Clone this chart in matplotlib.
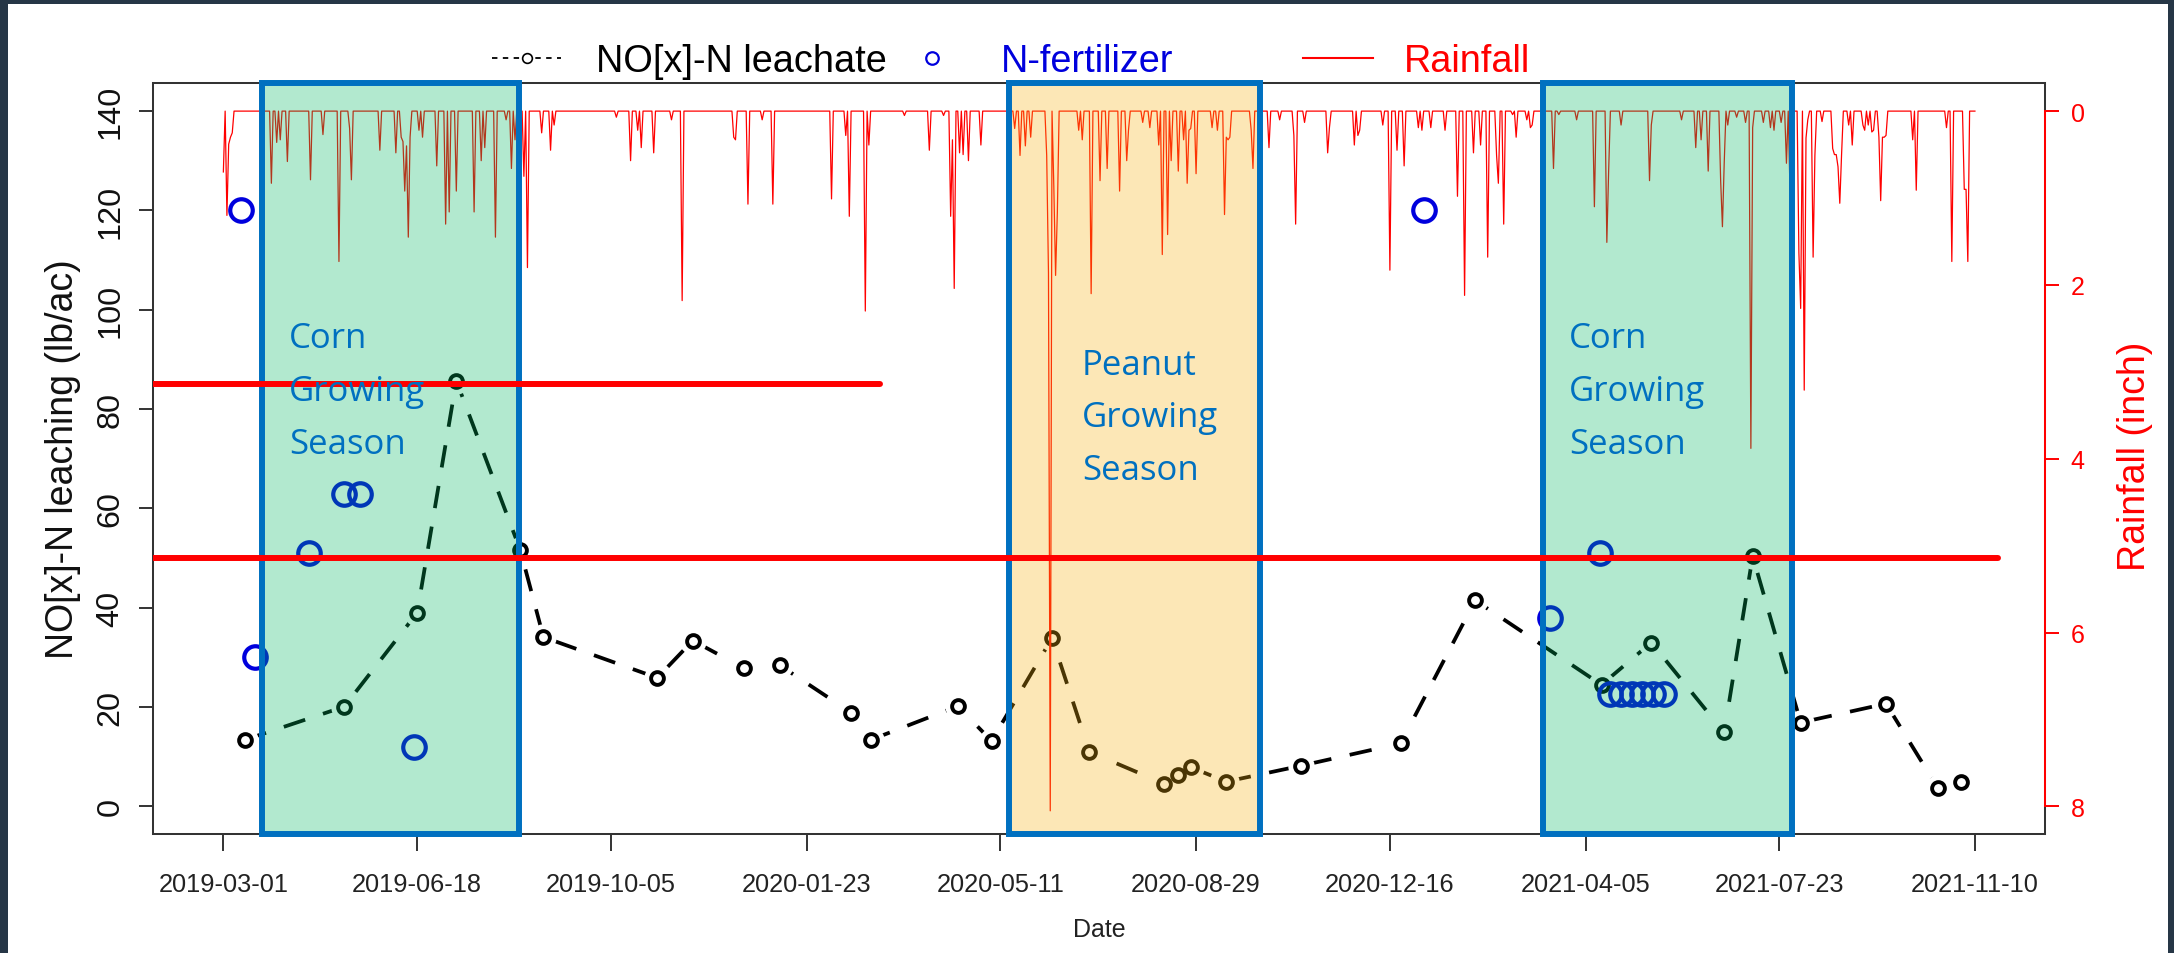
import numpy as np
import matplotlib
matplotlib.use("Agg")
import matplotlib.pyplot as plt
import matplotlib.dates as mdates
from matplotlib.patches import Rectangle
from matplotlib.lines import Line2D

plt.rcParams['font.family'] = ['Liberation Sans', 'DejaVu Sans']

# ---------------- data ----------------
start_date = "2019-03-01"
end_date = "2021-11-10"

leach_dates = ["2019-03-13", "2019-05-08", "2019-06-18", "2019-07-10", "2019-08-15",
               "2019-08-28", "2019-10-31", "2019-11-20", "2019-12-19", "2020-01-08",
               "2020-02-17", "2020-02-28", "2020-04-17", "2020-05-06", "2020-06-09",
               "2020-06-30", "2020-08-11", "2020-08-19", "2020-08-26", "2020-09-15",
               "2020-10-27", "2020-12-22", "2021-02-02", "2021-04-14", "2021-05-12",
               "2021-06-22", "2021-07-08", "2021-08-04", "2021-09-21", "2021-10-20",
               "2021-11-02"]
leach_values = [13.4, 20.1, 39.0, 85.7, 51.6, 34.1, 25.9, 33.4, 27.8, 28.4,
                18.9, 13.4, 20.2, 13.2, 33.9, 11.0, 4.6, 6.3, 7.9, 5.0,
                8.2, 12.7, 41.5, 24.5, 33.0, 14.9, 50.4, 16.9, 20.7, 3.8, 5.0]

fert_dates = ["2019-03-11", "2019-03-19", "2019-04-18", "2019-05-08", "2019-05-17",
              "2019-06-16", "2021-01-04", "2021-03-16", "2021-04-13", "2021-04-19",
              "2021-04-25", "2021-05-01", "2021-05-07", "2021-05-13", "2021-05-19"]
fert_values = [120, 30, 51, 63, 63, 12, 120, 38, 51, 22.7, 22.7, 22.7, 22.7, 22.7, 22.7]

# daily rainfall events: days since start_date, inches
rain_day = [0, 2, 3, 4, 5, 27, 30, 32, 36, 49, 56, 65, 71, 72, 88, 97, 100, 101, 102, 103,
            104, 105, 110, 112, 120, 125, 127, 131, 141, 145, 147, 153, 159, 162, 164, 169,
            171, 179, 184, 186, 221, 229, 233, 235, 242, 252, 258, 287, 288, 295, 303, 309,
            342, 350, 352, 361, 363, 383, 397, 405, 409, 410, 411, 414, 416, 419, 426, 445,
            448, 451, 454, 463, 464, 465, 467, 468, 469, 481, 483, 488, 493, 497, 504, 508,
            509, 517, 521, 526, 528, 531, 533, 537, 540, 542, 543, 544, 547, 556, 559, 563,
            564, 565, 566, 578, 579, 588, 594, 602, 603, 608, 621, 622, 636, 638, 639, 652,
            656, 660, 664, 672, 674, 679, 687, 694, 698, 703, 707, 711, 716, 717, 720, 725,
            727, 733, 735, 736, 748, 751, 761, 771, 778, 779, 786, 802, 803, 820, 828, 831,
            835, 842, 843, 844, 846, 851, 856, 859, 860, 866, 870, 872, 876, 879, 881, 886,
            887, 889, 890, 891, 894, 895, 899, 905, 906, 907, 908, 909, 910, 914, 916, 922,
            923, 925, 927, 928, 931, 932, 933, 934, 935, 950, 952, 969, 972, 979, 980, 981]
rain_inch = [0.70, 1.20, 0.38, 0.30, 0.25, 0.83, 0.36, 0.33, 0.58, 0.79, 0.27, 1.73, 0.20, 0.79,
             0.45, 0.48, 0.30, 0.35, 0.92, 0.40, 1.45, 0.30, 0.22, 0.30, 0.63, 1.30, 1.16, 0.92,
             1.16, 0.57, 0.42, 1.45, 0.10, 0.66, 0.33, 0.75, 1.80, 0.25, 0.45, 0.16, 0.07, 0.57,
             0.22, 0.42, 0.48, 0.10, 2.18, 0.30, 0.33, 1.07, 0.10, 1.07, 1.01, 0.28, 1.21, 2.30,
             0.39, 0.05, 0.45, 0.05, 1.21, 0.33, 2.04, 0.48, 0.50, 0.57, 0.39, 0.20, 0.51, 0.40,
             0.30, 0.51, 1.86, 8.05, 0.86, 1.89, 1.16, 0.22, 0.33, 2.10, 0.80, 0.66, 0.92, 0.57,
             0.22, 0.13, 0.19, 0.39, 1.65, 1.42, 0.57, 0.69, 0.33, 0.83, 0.22, 0.20, 0.72, 0.19,
             0.22, 1.19, 0.30, 0.33, 0.30, 0.22, 0.66, 0.42, 0.10, 0.28, 1.30, 0.13, 0.48, 0.19,
             0.39, 0.28, 0.22, 0.16, 1.83, 0.45, 0.63, 0.19, 0.22, 0.19, 0.22, 0.98, 2.12, 0.48,
             0.39, 1.68, 0.51, 0.83, 1.30, 0.04, 0.30, 0.10, 0.19, 0.16, 0.66, 0.04, 0.10, 1.10,
             1.51, 0.70, 0.16, 0.80, 0.16, 0.10, 0.42, 0.33, 0.69, 0.80, 1.33, 0.60, 0.16, 0.07,
             0.13, 3.88, 0.19, 0.13, 0.19, 0.22, 0.13, 0.60, 0.92, 1.63, 2.27, 3.21, 0.31, 0.10,
             1.68, 0.51, 0.12, 0.43, 0.50, 0.50, 0.64, 1.06, 0.50, 0.16, 0.39, 0.16, 0.22, 0.16,
             0.24, 0.22, 0.30, 1.03, 0.30, 0.30, 0.28, 0.33, 0.91, 0.19, 1.73, 0.90, 0.90, 1.73]

season_names = [["Corn", "Growing", "Season"], ["Peanut", "Growing", "Season"],
                ["Corn", "Growing", "Season"]]
season_start = ["2019-03-23", "2020-05-16", "2021-03-12"]
season_end = ["2019-08-14", "2020-10-04", "2021-07-30"]
season_fill = ["#00b962", "#f8b20f", "#00b962"]

threshold_values = [85, 50]
threshold_end = ["2020-03-04", "2021-11-23"]

xtick_labels = ["2019-03-01", "2019-06-18", "2019-10-05", "2020-01-23", "2020-05-11",
                "2020-08-29", "2020-12-16", "2021-04-05", "2021-07-23", "2021-11-10"]
ytick_left = [0, 20, 40, 60, 80, 100, 120, 140]
ytick_right = [0, 2, 4, 6, 8]

# ---------------- figure ----------------
W, H = 2174, 954
fig = plt.figure(figsize=(W / 100, H / 100), dpi=100)
fig.patch.set_facecolor('white')

ax_l, ax_r, ax_t, ax_b = 153.3, 2045.0, 84.3, 835.3
ax = fig.add_axes([ax_l / W, 1 - ax_b / H, (ax_r - ax_l) / W, (ax_b - ax_t) / H])
ax2 = ax.twinx()

to_num = lambda lst: mdates.date2num(np.array(lst, dtype='datetime64[D]'))

x0 = mdates.date2num(np.datetime64(start_date))
x1 = mdates.date2num(np.datetime64(end_date))
xpad = 0.04 * (x1 - x0)

# leachate series (dashed, with gaps around points like R type="b")
lx = to_num(leach_dates)
ax.plot(lx, leach_values, color='black', lw=2.7, dashes=(6.0, 5.0), zorder=2)
ax.plot(lx, leach_values, ls='none', marker='o', ms=19, mfc='white', mec='none', zorder=2.5)
ax.plot(lx, leach_values, ls='none', marker='o', ms=9.2, mfc='none', mec='black', mew=2.8, zorder=3)

# fertilizer points
fx = to_num(fert_dates)
ax.plot(fx, fert_values, ls='none', marker='o', ms=16.2, mfc='none', mec='#0000dd', mew=3.0, zorder=3.5)

# rainfall (daily line)
n_days = int((np.datetime64(end_date) - np.datetime64(start_date)).astype(int)) + 1
rain_daily = np.zeros(n_days)
rain_daily[np.array(rain_day)] = rain_inch
rain_x = x0 + np.arange(n_days)
ax2.plot(rain_x, rain_daily, color='#ff0000', lw=0.9, zorder=2)

# growing season overlays
for s, e, fc, names in zip(season_start, season_end, season_fill, season_names):
    s_num = mdates.date2num(np.datetime64(s))
    e_num = mdates.date2num(np.datetime64(e))
    ax2.add_patch(Rectangle((s_num, 0), e_num - s_num, 1, transform=ax2.get_xaxis_transform(),
                            facecolor=matplotlib.colors.to_rgba(fc, 0.30), edgecolor='#0070c0',
                            lw=4.3, clip_on=False, zorder=5))

# season labels (text positions in axes fractions)
text_pos = [(0.0719, [0.6485, 0.5786, 0.5079]),
            (0.4909, [0.6132, 0.5433, 0.4726]),
            (0.7484, [0.6485, 0.5786, 0.5079])]
for names, (tx, tys) in zip(season_names, text_pos):
    for word, ty in zip(names, tys):
        ax2.text(tx, ty, word, transform=ax2.transAxes, color='#0070c0', fontsize=25,
                 family=['Open Sans', 'DejaVu Sans'], ha='left', va='baseline', zorder=8)

# threshold lines
for v, e in zip(threshold_values, threshold_end):
    ax2.plot([x0 - xpad, mdates.date2num(np.datetime64(e))], [v, v], transform=ax.transData,
             color='#ff0000', lw=4.3, solid_capstyle='round', zorder=7)

# ---------------- axes styling ----------------
ax.set_xlim(x0 - xpad, x1 + xpad)
ax.set_ylim(-5.6, 145.6)
ax2.set_ylim(8.32, -0.32)

ax.set_xticks(to_num(xtick_labels))
ax.set_xticklabels(xtick_labels)
ax.set_yticks(ytick_left)
ax.set_yticklabels([str(v) for v in ytick_left])
ax2.set_yticks(ytick_right)
ax2.set_yticklabels([str(v) for v in ytick_right])

for sp in ax.spines.values():
    sp.set_color('#333333')
    sp.set_linewidth(1.45)
for name, sp in ax2.spines.items():
    sp.set_visible(False)
ax2.spines['right'].set_visible(True)
ax2.spines['right'].set_color('#ff0000')
ax2.spines['right'].set_linewidth(1.45)
ax2.spines['right'].set_bounds(0, 8)

ax.tick_params(axis='x', labelsize=18.3, length=12, width=1.4, pad=15, color='#333333', labelcolor='#222222')
ax.tick_params(axis='y', labelsize=23.3, length=10, width=1.4, pad=10, color='#333333',
               labelcolor='#111111', labelrotation=90)
for t in ax.get_yticklabels():
    t.set_va('center')
ax2.tick_params(axis='y', labelsize=18, length=10, width=1.4, pad=8.4, color='#ff0000', labelcolor='#ff0000')

ax.set_ylabel("NO[x]-N leaching (lb/ac)", fontsize=27, color='#111111')
ax.yaxis.set_label_coords(-0.0382, 0.501)
ax2.set_ylabel("Rainfall (inch)", fontsize=27, color='#ff0000')
ax2.yaxis.set_label_coords(1.038, 0.505)
ax.set_xlabel("Date", fontsize=18, color='#222222')
ax.xaxis.set_label_coords(0.5, -0.1096)

# ---------------- legend (manual, above plot) ----------------
ly = 1 - 59 / H
lb = 1 - 72 / H
fig.add_artist(Line2D([492 / W, 561 / W], [ly, ly], transform=fig.transFigure, color='black',
                      lw=1.3, dashes=(3, 3)))
fig.add_artist(Line2D([527 / W], [ly], transform=fig.transFigure, ls='none', marker='o', ms=7,
                      mfc='white', mec='black', mew=1.2))
fig.text(596 / W, lb, "NO[x]-N leachate", fontsize=27.3, color='black', ha='left', va='baseline')
fig.add_artist(Line2D([932 / W], [ly], transform=fig.transFigure, ls='none', marker='o', ms=9,
                      mfc='none', mec='#0000dd', mew=1.6))
fig.text(1001 / W, lb, "N-fertilizer", fontsize=27.3, color='#0000dd', ha='left', va='baseline')
fig.add_artist(Line2D([1303 / W, 1373 / W], [ly, ly], transform=fig.transFigure, color='#ff0000', lw=1.5))
fig.text(1404 / W, lb, "Rainfall", fontsize=27.3, color='#ff0000', ha='left', va='baseline')

# ---------------- dark slide frame ----------------
frame_color = '#263646'
for (fx0, fy0, fw, fh) in [(0, 0, 8 / W, 1), (0, 1 - 5 / H, 1, 5 / H), (2168 / W, 0, 6 / W, 1)]:
    fig.add_artist(Rectangle((fx0, fy0), fw, fh, transform=fig.transFigure,
                             facecolor=frame_color, edgecolor='none', zorder=20))

fig.savefig("out.png", dpi=100, facecolor='white')
